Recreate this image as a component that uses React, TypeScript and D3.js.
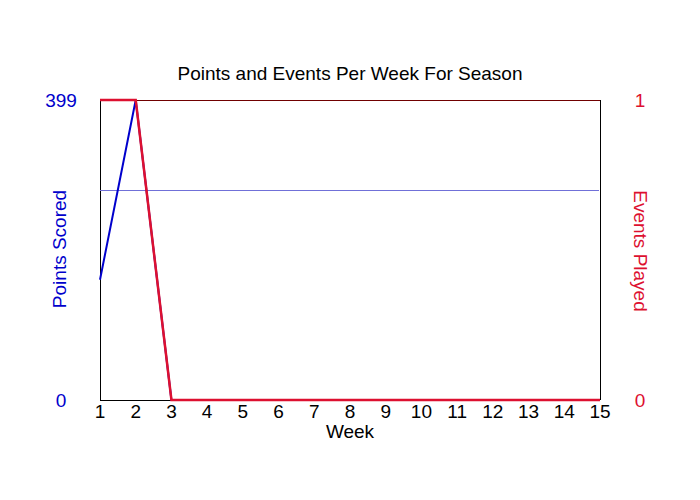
import React from "react";
import * as d3 from "d3";

const weeks = [1, 2, 3, 4, 5, 6, 7, 8, 9, 10, 11, 12, 13, 14, 15];
const pointsScored = [160, 399, 0, 0, 0, 0, 0, 0, 0, 0, 0, 0, 0, 0, 0];
const eventsPlayed = [1, 1, 0, 0, 0, 0, 0, 0, 0, 0, 0, 0, 0, 0, 0];
const averagePoints = 279.5;
const leftTicks = [0, 399];
const rightTicks = [0, 1];

export default function App() {
  const W = 700, H = 500;
  const m = { l: 100, r: 600, t: 100, b: 400 };
  const x = d3.scaleLinear().domain([1, 15]).range([m.l, m.r]);
  const yL = d3.scaleLinear().domain([0, 399]).range([m.b, m.t]);
  const yR = d3.scaleLinear().domain([0, 1]).range([m.b, m.t]);
  const blue = "#0000cc";
  const red = "#dd1030";
  const font = "Arial, 'Liberation Sans', sans-serif";
  const lineL = d3.line<number>().x((_, i) => x(weeks[i])).y((d) => yL(d));
  const lineR = d3.line<number>().x((_, i) => x(weeks[i])).y((d) => yR(d));
  return (
    <svg width={W} height={H} style={{ position: "absolute", left: 0, top: 0, background: "#fff" }} fontFamily={font}>
      <rect x={0} y={0} width={W} height={H} fill="#fff" />
      <text x={350} y={80} textAnchor="middle" fontSize={19} fill="#000">Points and Events Per Week For Season</text>
      {/* frame */}
      <g shapeRendering="crispEdges">
        <line x1={m.l} x2={m.r} y1={m.t + 0.5} y2={m.t + 0.5} stroke="#700000" strokeWidth={1} />
        <line x1={m.r + 0.5} x2={m.r + 0.5} y1={m.t} y2={m.b} stroke="#000" strokeWidth={1} />
        <line x1={m.l + 0.5} x2={m.l + 0.5} y1={m.t} y2={m.b} stroke="#000" strokeWidth={1} />
        <line x1={m.l} x2={m.r} y1={m.b + 0.5} y2={m.b + 0.5} stroke="#000" strokeWidth={1} />
        <line x1={m.l} x2={m.r - 1} y1={yL(averagePoints) + 0.5} y2={yL(averagePoints) + 0.5} stroke="#7070d8" strokeWidth={1} />
      </g>
      <path d={lineL(pointsScored) || ""} fill="none" stroke={blue} strokeWidth={2} />
      <path d={lineR(eventsPlayed) || ""} fill="none" stroke={red} strokeWidth={2.5} />
      {leftTicks.map((t) => (
        <text key={"l" + t} x={61} y={yL(t) + 6.5} textAnchor="middle" fontSize={19} fill={blue}>{t}</text>
      ))}
      {rightTicks.map((t) => (
        <text key={"r" + t} x={640} y={yR(t) + 6.5} textAnchor="middle" fontSize={19} fill={red}>{t}</text>
      ))}
      {weeks.map((w) => (
        <text key={"w" + w} x={x(w)} y={418} textAnchor="middle" fontSize={19} fill="#000">{w}</text>
      ))}
      <text x={350} y={438} textAnchor="middle" fontSize={19} fill="#000">Week</text>
      <text transform={`translate(66,249) rotate(-90)`} textAnchor="middle" fontSize={19} fill={blue}>Points Scored</text>
      <text transform={`translate(634,251) rotate(90)`} textAnchor="middle" fontSize={19} fill={red}>Events Played</text>
    </svg>
  );
}
